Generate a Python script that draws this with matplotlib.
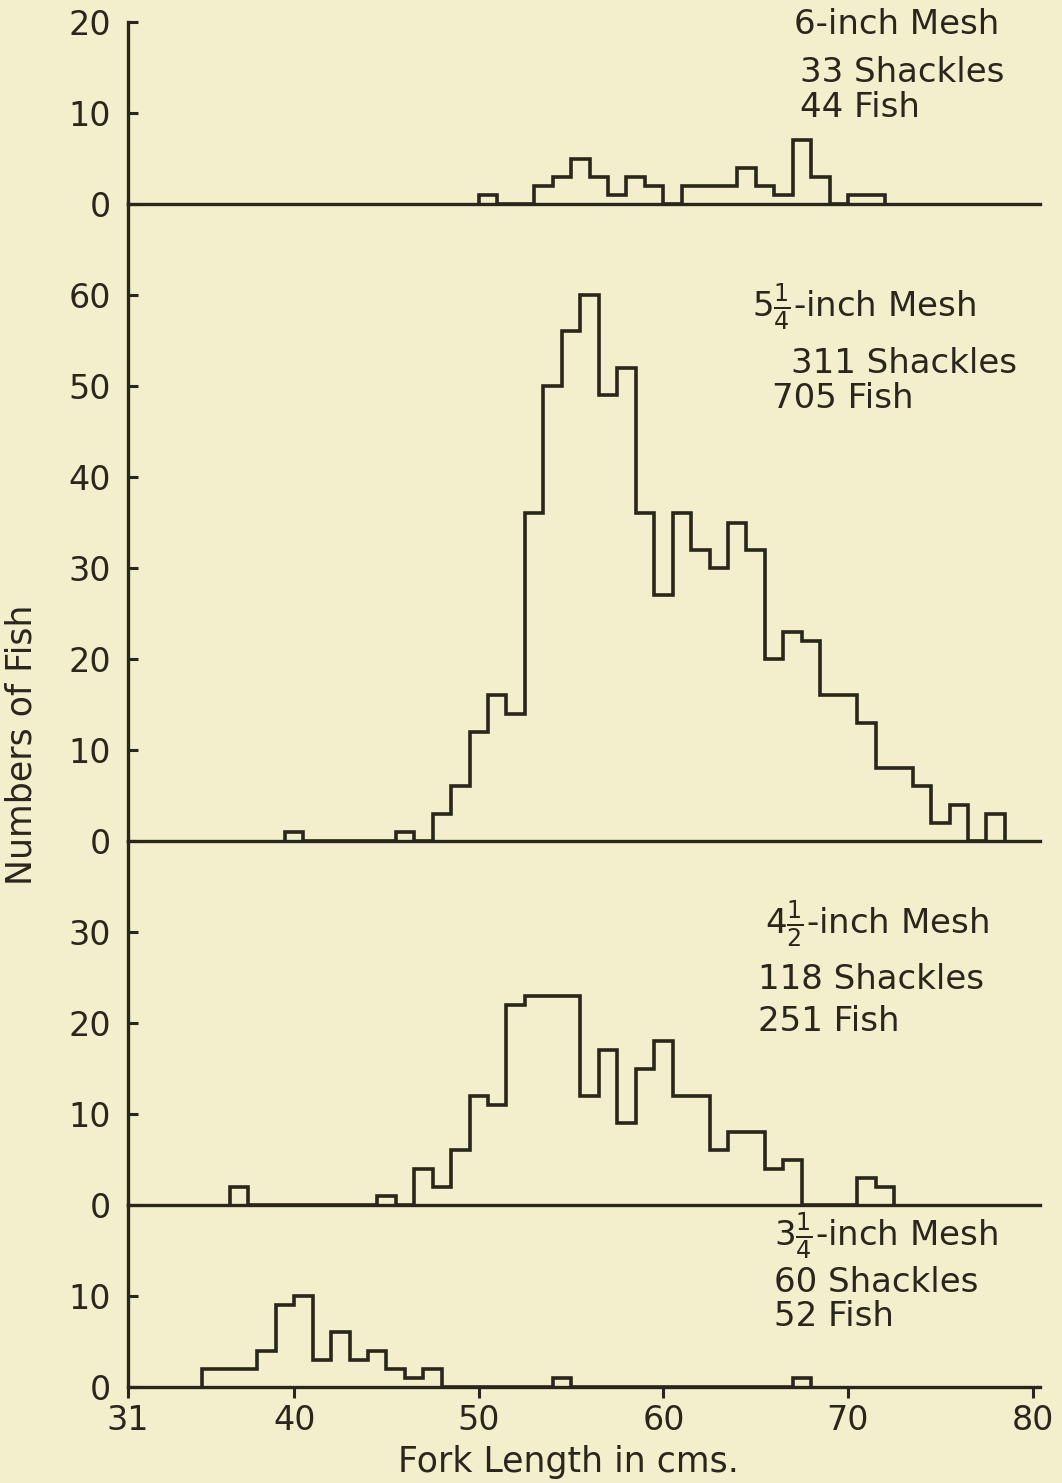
import numpy as np
import matplotlib
matplotlib.use("Agg")
import matplotlib.pyplot as plt

# bin counts (1 cm bins), first bin left edge in cm
mesh6_start = 50
mesh6_counts = [1, 0, 0, 2, 3, 5, 3, 1, 3, 2, 0, 2, 2, 2, 4, 2, 1, 7, 3, 0, 1, 1]

mesh525_start = 39.5
mesh525_counts = [1, 0, 0, 0, 0, 0, 1, 0, 3, 6, 12, 16, 14, 36, 50, 56, 60, 49, 52,
                  36, 27, 36, 32, 30, 35, 32, 20, 23, 22, 16, 16, 13, 8, 8, 6, 2,
                  4, 0, 3]

mesh45_start = 36.5
mesh45_counts = [2, 0, 0, 0, 0, 0, 0, 0, 1, 0, 4, 2, 6, 12, 11, 22, 23, 23, 23,
                 12, 17, 9, 15, 18, 12, 12, 6, 8, 8, 4, 5, 0, 0, 0, 3, 2]

mesh325_start = 35
mesh325_counts = [2, 2, 2, 4, 9, 10, 3, 6, 3, 4, 2, 1, 2, 0, 0, 0, 0, 0, 0, 1,
                  0, 0, 0, 0, 0, 0, 0, 0, 0, 0, 0, 0, 1]

panel_tops = [20, 70, 40, 20]
panel_yticks = [[0, 10, 20], [0, 10, 20, 30, 40, 50, 60], [0, 10, 20, 30], [0, 10]]
xticks = [31, 40, 50, 60, 70, 80]

labels = [
    ("6-inch Mesh", "33 Shackles", "44 Fish"),
    (r"$5\frac{1}{4}$-inch Mesh", "311 Shackles", "705 Fish"),
    (r"$4\frac{1}{2}$-inch Mesh", "118 Shackles", "251 Fish"),
    (r"$3\frac{1}{4}$-inch Mesh", "60 Shackles", "52 Fish"),
]
# text anchor positions (x in cm, y baseline in panel units)
label_pos = [
    [(67.1, 18.7), (67.4, 13.4), (67.4, 9.6)],
    [(64.8, 57.7), (66.9, 51.4), (65.9, 47.6)],
    [(65.5, 29.8), (65.1, 23.7), (65.1, 19.1)],
    [(66.0, 15.6), (66.0, 10.4), (66.0, 6.7)],
]

bg = "#f3efcd"
ink = "#2b261b"

plt.rcParams["font.family"] = ["DejaVu Sans"]
plt.rcParams["mathtext.fontset"] = "dejavusans"

fig = plt.figure(figsize=(10.62, 14.83), dpi=100, facecolor=bg)
gs = fig.add_gridspec(4, 1, height_ratios=panel_tops, hspace=0,
                      left=128 / 1062, right=1040 / 1062,
                      bottom=1 - 1387 / 1483, top=1 - 22 / 1483)

data = [(mesh6_start, mesh6_counts), (mesh525_start, mesh525_counts),
        (mesh45_start, mesh45_counts), (mesh325_start, mesh325_counts)]

for i, (start, counts) in enumerate(data):
    ax = fig.add_subplot(gs[i])
    ax.set_facecolor("none")
    edges = start + np.arange(len(counts) + 1)
    ax.stairs(counts, edges, baseline=0, color=ink, lw=2.6)
    ax.set_xlim(31, 80.4)
    ax.set_ylim(0, panel_tops[i])
    for s in ["top", "right"]:
        ax.spines[s].set_visible(False)
    for s in ["left", "bottom"]:
        ax.spines[s].set_color(ink)
        ax.spines[s].set_linewidth(2.4)
    ax.set_yticks(panel_yticks[i])
    ax.tick_params(axis="y", direction="in", length=7, width=2.2, color=ink,
                   labelsize=24, labelcolor=ink, pad=12)
    if i < 3:
        ax.set_xticks([])
    else:
        ax.set_xticks(xticks)
        ax.tick_params(axis="x", direction="out", length=8, width=2.2, color=ink,
                       labelsize=24, labelcolor=ink, pad=4)
    for txt, (tx, ty) in zip(labels[i], label_pos[i]):
        ax.text(tx, ty, txt, fontsize=24.5, color=ink, ha="left", va="baseline",
                clip_on=False)

fig.text(22 / 1062, 1 - 745 / 1483, "Numbers of Fish", rotation=90,
         ha="center", va="center", fontsize=25, color=ink)
fig.text(568 / 1062, 1 - 1462 / 1483, "Fork Length in cms.",
         ha="center", va="center", fontsize=25, color=ink)

fig.savefig("out.png", dpi=100, facecolor=bg)
